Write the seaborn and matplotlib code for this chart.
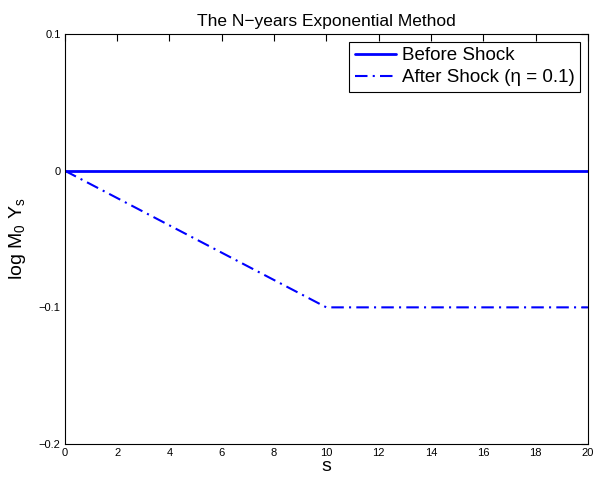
import matplotlib
matplotlib.use("Agg")
import matplotlib.pyplot as plt
import seaborn as sns
import pandas as pd

s_values = [0, 10, 20]
before_shock = [0.0, 0.0, 0.0]
after_shock = [0.0, -0.1, -0.1]
x_ticks = [0, 2, 4, 6, 8, 10, 12, 14, 16, 18, 20]
y_ticks = [-0.2, -0.1, 0, 0.1]
y_tick_labels = ["\u22120.2", "\u22120.1", "0", "0.1"]

sns.set_style("white")
plt.rcParams['font.family'] = ['Liberation Sans', 'DejaVu Sans']
plt.rcParams['mathtext.fontset'] = 'custom'
plt.rcParams['mathtext.rm'] = 'Liberation Sans'
plt.rcParams['text.color'] = 'black'
plt.rcParams['axes.labelcolor'] = 'black'

fig = plt.figure(figsize=(5.95, 4.8), dpi=100)
ax = fig.add_axes([0.109, 0.075, 0.879, 0.854])

df_b = pd.DataFrame({"s": s_values, "v": before_shock})
df_a = pd.DataFrame({"s": s_values, "v": after_shock})
sns.lineplot(data=df_b, x="s", y="v", ax=ax, color="#0000ff", lw=2,
             label="Before Shock")
sns.lineplot(data=df_a, x="s", y="v", ax=ax, color="#0000ff", lw=1.5,
             linestyle=(0, (6, 2.5, 1, 2.5)), label="After Shock (\u03b7 = 0.1)")

ax.set_xlim(0, 20)
ax.set_ylim(-0.2, 0.1)
ax.set_xticks(x_ticks)
ax.set_xticklabels([str(t) for t in x_ticks])
ax.set_yticks(y_ticks)
ax.set_yticklabels(y_tick_labels)
ax.tick_params(direction="in", top=True, right=True, length=5, width=0.8,
               labelsize=8, colors="black", pad=3)
for sp in ax.spines.values():
    sp.set_visible(True)
    sp.set_color("black")
    sp.set_linewidth(0.8)

ax.set_xlabel("s", fontsize=14, labelpad=0, color="black")
ax.set_ylabel(r"log M$_\mathregular{0}$ Y$_\mathregular{s}$", fontsize=14, labelpad=8, color="black")
ax.set_title("The N\u2212years Exponential Method", fontsize=12.5, pad=6, color="black")

leg = ax.legend(loc="upper right", fontsize=13.5, frameon=True, fancybox=False,
                edgecolor="black", framealpha=1, borderpad=0.3,
                handlelength=2.2, handletextpad=0.3, labelspacing=0.25,
                borderaxespad=0.4)
leg.get_frame().set_linewidth(0.8)
for t in leg.get_texts():
    t.set_color("black")

fig.savefig("out.png", dpi=100)
